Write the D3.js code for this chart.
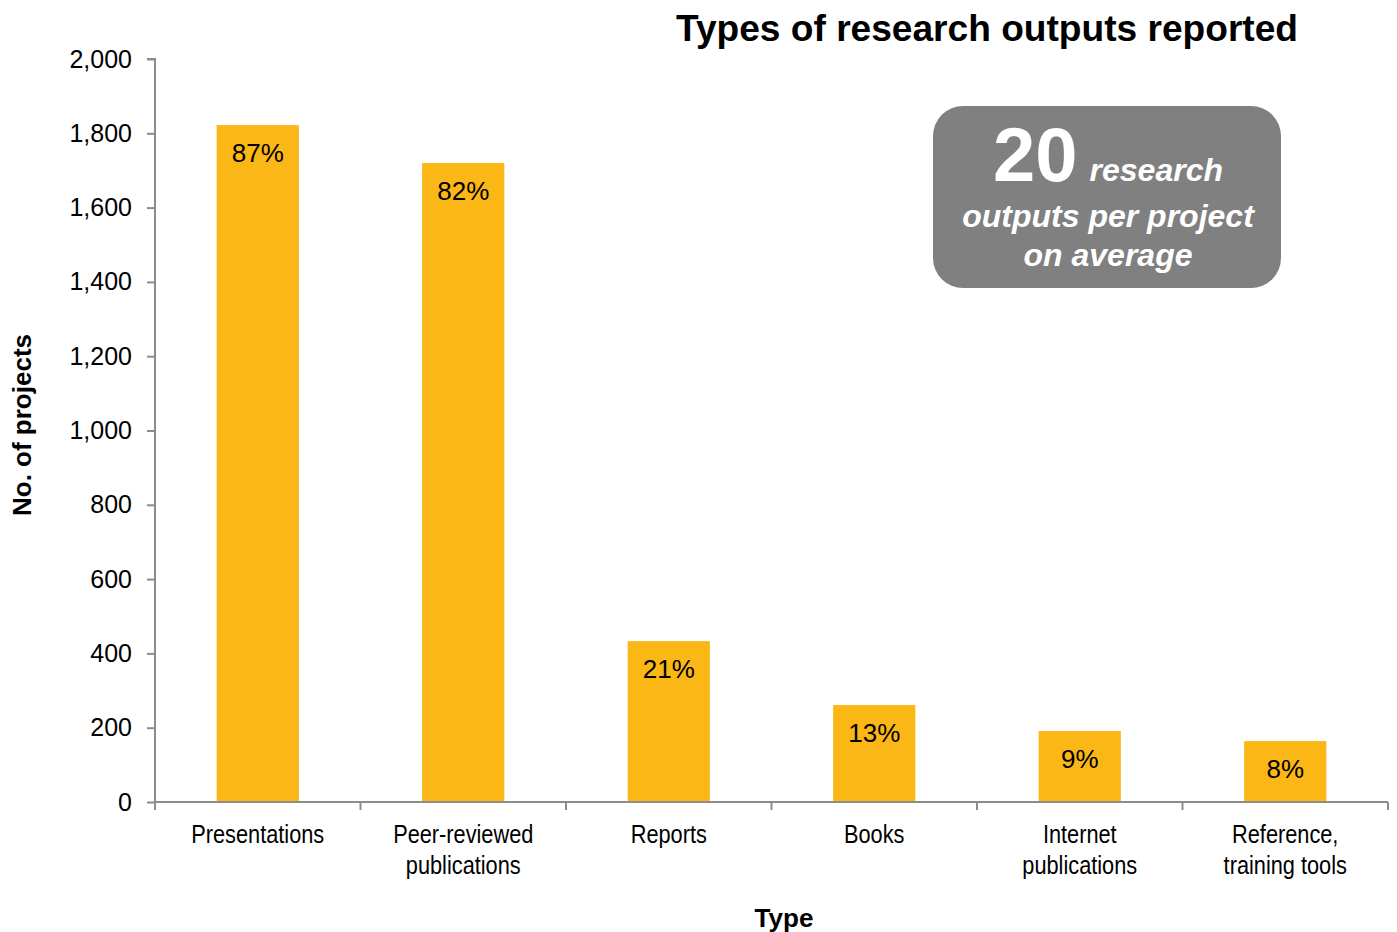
<!DOCTYPE html>
<html>
<head>
<meta charset="utf-8">
<script src="https://cdn.jsdelivr.net/npm/d3@7"></script>
<style>
  html, body { margin: 0; padding: 0; background: #fff; }
  svg { display: block; }
  text { font-family: "Liberation Sans", Arial, sans-serif; }
</style>
</head>
<body>
<svg id="chart" width="1397" height="932"></svg>
<script>
const categories = [["Presentations"], ["Peer-reviewed", "publications"], ["Reports"], ["Books"], ["Internet", "publications"], ["Reference,", "training tools"]];
const values = [1822, 1720, 433, 261, 191, 164];
const percentLabels = ["87%", "82%", "21%", "13%", "9%", "8%"];
const yTicks = [0, 200, 400, 600, 800, 1000, 1200, 1400, 1600, 1800, 2000];

const svg = d3.select("#chart");
const margin = { left: 155, right: 1388, top: 59, bottom: 802 };

const x = d3.scaleBand()
  .domain(d3.range(categories.length))
  .range([margin.left, margin.right])
  .paddingInner(0.6)
  .paddingOuter(0.3);

const y = d3.scaleLinear().domain([0, 2000]).range([margin.bottom, margin.top]);

// bars
svg.append("g").selectAll("rect")
  .data(values)
  .join("rect")
  .attr("x", (d, i) => x(i))
  .attr("width", x.bandwidth())
  .attr("y", d => y(d))
  .attr("height", d => y(0) - y(d))
  .attr("fill", "#FBB715");

// percent labels
svg.append("g").selectAll("text")
  .data(values)
  .join("text")
  .attr("x", (d, i) => x(i) + x.bandwidth() / 2)
  .attr("y", d => y(d) + 37)
  .attr("text-anchor", "middle")
  .attr("font-size", 26)
  .attr("fill", "#000")
  .text((d, i) => percentLabels[i]);

// y axis
const yAxis = d3.axisLeft(y).tickValues(yTicks).tickFormat(d3.format(",")).tickSize(8).tickPadding(15);
const gy = svg.append("g").attr("transform", `translate(${margin.left},0)`).call(yAxis);
gy.select(".domain").attr("stroke", "#8c8c8c").attr("stroke-width", 2).attr("d", `M-8,${margin.top}H0V${margin.bottom}`);
gy.selectAll(".tick line").attr("stroke", "#8c8c8c").attr("stroke-width", 2);
gy.selectAll(".tick text").attr("font-size", 25).attr("fill", "#000");

// x axis
const gx = svg.append("g").attr("transform", `translate(0,${margin.bottom})`);
gx.append("line").attr("x1", margin.left).attr("x2", margin.right).attr("y1", 0).attr("y2", 0)
  .attr("stroke", "#8c8c8c").attr("stroke-width", 2);
const boundaries = d3.range(categories.length + 1).map(i => margin.left + (margin.right - margin.left) * i / categories.length);
gx.selectAll("line.tk").data(boundaries).join("line").attr("class", "tk")
  .attr("x1", d => d).attr("x2", d => d).attr("y1", 0).attr("y2", 8)
  .attr("stroke", "#8c8c8c").attr("stroke-width", 2);

const sx = 0.87;
const xl = gx.selectAll("text.xl").data(categories).join("text").attr("class", "xl")
  .attr("text-anchor", "middle")
  .attr("font-size", 25)
  .attr("transform", `scale(${sx},1)`)
  .attr("fill", "#000");
xl.each(function(lines, i) {
  const t = d3.select(this);
  lines.forEach((ln, j) => {
    t.append("tspan").attr("x", (x(i) + x.bandwidth() / 2) / sx).attr("y", 41 + j * 31).text(ln);
  });
});

// axis titles
svg.append("text").attr("x", 784).attr("y", 927).attr("text-anchor", "middle")
  .attr("font-size", 26).attr("font-weight", "bold").text("Type");
svg.append("text").attr("transform", "translate(31,425) rotate(-90)").attr("text-anchor", "middle")
  .attr("font-size", 26).attr("font-weight", "bold").text("No. of projects");

// title
svg.append("text").attr("x", 987).attr("y", 41).attr("text-anchor", "middle")
  .attr("font-size", 37).attr("font-weight", "bold")
  .attr("textLength", 622).attr("lengthAdjust", "spacingAndGlyphs")
  .text("Types of research outputs reported");

// callout box
const box = svg.append("g");
box.append("rect").attr("x", 933).attr("y", 106).attr("width", 348).attr("height", 182)
  .attr("rx", 30).attr("ry", 30).attr("fill", "#808080");
const t1 = box.append("text").attr("x", 1108).attr("y", 181).attr("text-anchor", "middle").attr("fill", "#fff").attr("font-weight", "bold");
t1.append("tspan").attr("font-size", 76).text("20");
t1.append("tspan").attr("font-size", 32).attr("font-style", "italic").attr("dx", 12).text("research");
box.append("text").attr("x", 1108).attr("y", 227).attr("text-anchor", "middle").attr("fill", "#fff")
  .attr("font-weight", "bold").attr("font-style", "italic").attr("font-size", 32).text("outputs per project");
box.append("text").attr("x", 1108).attr("y", 266).attr("text-anchor", "middle").attr("fill", "#fff")
  .attr("font-weight", "bold").attr("font-style", "italic").attr("font-size", 32).text("on average");
</script>
</body>
</html>
